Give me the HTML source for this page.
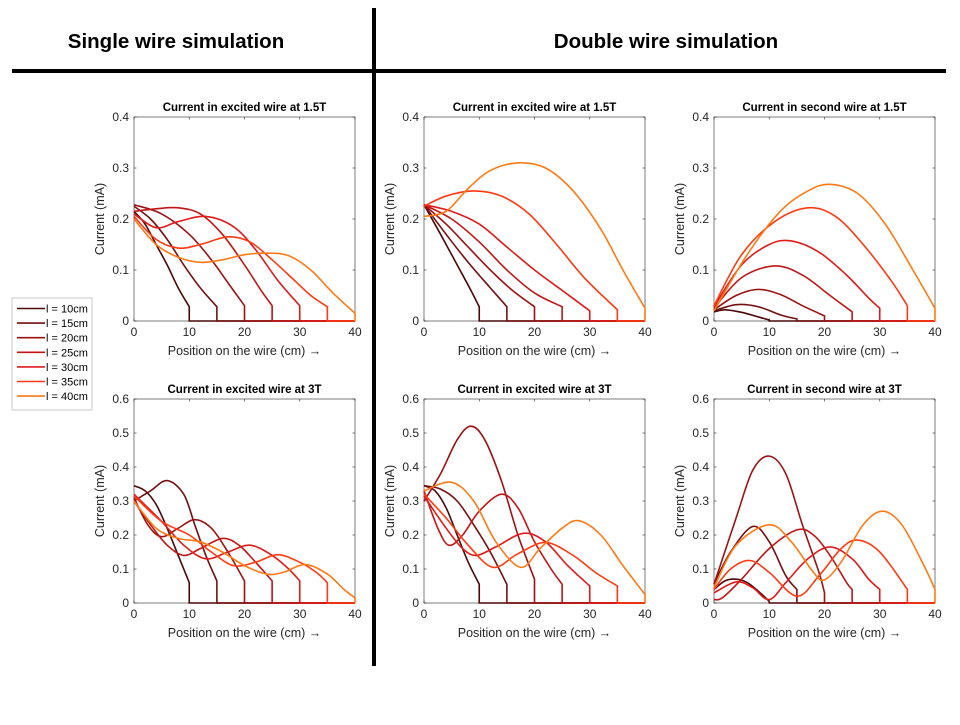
<!DOCTYPE html>
<html><head><meta charset="utf-8"><style>
body{margin:0;background:#fff;width:960px;height:720px;overflow:hidden;font-family:"Liberation Sans",sans-serif}
</style></head><body>
<svg id="s" width="960" height="720" xmlns="http://www.w3.org/2000/svg">
<text x="176" y="48" text-anchor="middle" font-size="20.5" font-weight="bold">Single wire simulation</text>
<text x="666" y="48" text-anchor="middle" font-size="20.5" font-weight="bold">Double wire simulation</text>
<rect x="12" y="69" width="934" height="4" fill="#000"/>
<rect x="372" y="8" width="4" height="658" fill="#000"/>
<g id="legend"></g>
</svg>
<script>
const lengths=[10,15,20,25,30,35,40];
const legendLabels=["l = 10cm","l = 15cm","l = 20cm","l = 25cm","l = 30cm","l = 35cm","l = 40cm"];
const colors=["#4a0808","#741010","#9c1212","#c01616","#e01a1a","#ff3a12","#ff7a14"];
const xTicks=[0,10,20,30,40];
const yTicksTop=[0,0.1,0.2,0.3,0.4];
const yTicksBot=[0,0.1,0.2,0.3,0.4,0.5,0.6];
const p1=[
[[0,.215],[2,.19],[4,.15],[6,.11],[8,.065],[10,.028]],
[[0,.225],[3,.2],[6,.16],[9,.11],[12,.065],[15,.028]],
[[0,.228],[5,.21],[10,.17],[14,.12],[17,.075],[20,.03]],
[[0,.215],[4,.22],[8,.222],[12,.21],[16,.17],[20,.11],[23,.06],[25,.03]],
[[0,.21],[4,.183],[8,.195],[13,.205],[18,.185],[22,.14],[26,.08],[30,.03]],
[[0,.205],[4,.16],[8,.143],[12,.15],[17,.165],[21,.155],[25,.12],[29,.08],[32,.05],[35,.028]],
[[0,.2],[4,.15],[8,.125],[12,.115],[16,.12],[20,.13],[24,.133],[28,.128],[32,.1],[36,.055],[40,.015]]];
const p2=[
[[0,.228],[3,.17],[6,.11],[8,.07],[10,.028]],
[[0,.228],[4,.17],[8,.115],[12,.065],[15,.028]],
[[0,.228],[4,.19],[8,.145],[12,.1],[16,.06],[20,.028]],
[[0,.228],[5,.2],[10,.155],[15,.1],[20,.055],[25,.028]],
[[0,.228],[5,.215],[10,.19],[15,.145],[20,.1],[25,.06],[30,.02]],
[[0,.225],[4,.245],[9,.255],[14,.245],[19,.21],[24,.15],[29,.085],[35,.022]],
[[0,.205],[4,.215],[8,.26],[12,.295],[17,.31],[22,.3],[27,.255],[32,.18],[36,.1],[40,.025]]];
const p3=[
[[0,.018],[2,.022],[5,.017],[8,.008],[10,.002]],
[[0,.02],[4,.032],[8,.028],[12,.012],[15,.004]],
[[0,.022],[4,.05],[8,.062],[12,.052],[16,.03],[20,.01]],
[[0,.025],[5,.085],[11,.108],[16,.09],[21,.05],[25,.018]],
[[0,.028],[5,.11],[10,.15],[14,.157],[19,.135],[24,.09],[28,.045],[30,.025]],
[[0,.03],[5,.13],[11,.195],[17,.222],[22,.205],[27,.15],[32,.08],[35,.03]],
[[0,.02],[6,.13],[12,.215],[17,.255],[21,.268],[26,.25],[31,.19],[36,.1],[40,.025]]];
const p4=[
[[0,.345],[2,.33],[4,.29],[6,.22],[8,.14],[9,.1],[10,.06]],
[[0,.3],[3,.33],[6,.36],[9,.32],[11,.23],[13,.14],[15,.065]],
[[0,.31],[2.5,.23],[5,.195],[8,.22],[11,.245],[14,.22],[17,.15],[20,.065]],
[[0,.3],[3,.23],[6,.17],[9,.14],[12,.16],[16,.19],[19,.17],[22,.12],[25,.065]],
[[0,.32],[5,.24],[9,.17],[13,.13],[17,.15],[21,.17],[25,.14],[28,.1],[30,.065]],
[[0,.315],[5,.24],[10,.2],[14,.15],[18,.11],[22,.12],[26,.142],[30,.12],[33,.09],[35,.06]],
[[0,.3],[4,.22],[8,.19],[12,.18],[16,.15],[20,.11],[24,.085],[27,.09],[31,.113],[35,.085],[38,.04],[40,.015]]];
const p5=[
[[0,.345],[2,.33],[4,.28],[6,.2],[8,.12],[10,.055]],
[[0,.345],[3,.335],[6,.3],[9,.23],[12,.15],[15,.055]],
[[0,.3],[3,.38],[6,.48],[8.5,.52],[11,.48],[14,.36],[17,.2],[20,.07]],
[[0,.33],[2.5,.22],[4.5,.17],[7,.2],[10,.27],[14,.32],[17,.28],[20,.18],[23,.1],[25,.055]],
[[0,.315],[4,.22],[7,.16],[9.5,.14],[13,.165],[18,.205],[22,.18],[26,.11],[30,.05]],
[[0,.32],[4,.25],[8,.17],[12.5,.105],[17,.145],[22,.178],[27,.14],[31,.09],[35,.05]],
[[0,.33],[5,.355],[9,.3],[13,.18],[17.5,.105],[21,.16],[25,.22],[28,.242],[32,.2],[36,.11],[40,.025]]];
const p6=[
[[0,.04],[2,.065],[4,.07],[6,.06],[8,.035],[10,.005]],
[[0,.055],[3,.15],[7,.225],[10,.18],[13,.08],[15,.04]],
[[0,.055],[4,.25],[7,.39],[10,.432],[13,.38],[16,.23],[19,.09],[20,.03]],
[[0,.01],[1.5,.015],[5,.07],[10,.16],[15,.215],[18,.2],[21,.14],[24,.06],[25,.04]],
[[0,.03],[4,.062],[7,.045],[10,.01],[13,.06],[17,.13],[21,.165],[25,.13],[28,.07],[30,.04]],
[[0,.04],[3,.1],[6.5,.125],[10,.09],[15,.02],[19,.08],[23,.16],[26,.185],[30,.15],[35,.04]],
[[0,.045],[4,.17],[10,.23],[14,.18],[18,.09],[20,.068],[23,.12],[27,.23],[30.5,.27],[34,.23],[38,.11],[40,.04]]];
const titles=["Current in excited wire at 1.5T","Current in excited wire at 1.5T","Current in second wire at 1.5T","Current in excited wire at 3T","Current in excited wire at 3T","Current in second wire at 3T"];
const NS="http://www.w3.org/2000/svg";
const svg=document.getElementById('s');
function mk(t,a,p){const e=document.createElementNS(NS,t);for(const k in a)e.setAttribute(k,a[k]);(p||svg).appendChild(e);return e;}
const panels=[
{x0:134,y0:117,data:p1,ym:0.4,yt:yTicksTop},
{x0:424,y0:117,data:p2,ym:0.4,yt:yTicksTop},
{x0:714,y0:117,data:p3,ym:0.4,yt:yTicksTop},
{x0:134,y0:399,data:p4,ym:0.6,yt:yTicksBot},
{x0:424,y0:399,data:p5,ym:0.6,yt:yTicksBot},
{x0:714,y0:399,data:p6,ym:0.6,yt:yTicksBot}];
const W=221,H=204;
panels.forEach((P,pi)=>{
  const g=mk('g',{});
  
  
  const sx=v=>P.x0+v/40*W, sy=v=>P.y0+H-v/P.ym*H;
  const bx=mk('rect',{x:P.x0,y:P.y0,width:W,height:H,fill:'#fff',stroke:'#262626','stroke-width':0.6},g);
  
  
  xTicks.forEach(t=>{
    mk('line',{x1:sx(t),x2:sx(t),y1:P.y0+H,y2:P.y0+H-2.5,stroke:'#262626','stroke-width':0.6},g);
    mk('line',{x1:sx(t),x2:sx(t),y1:P.y0,y2:P.y0+2.5,stroke:'#262626','stroke-width':0.6},g);
    const tx=mk('text',{x:sx(t),y:P.y0+H+15,'text-anchor':'middle','font-size':12,fill:'#262626'},g);tx.textContent=t;
    
    
  });
  P.yt.forEach(t=>{
    mk('line',{x1:P.x0,x2:P.x0+2.5,y1:sy(t),y2:sy(t),stroke:'#262626','stroke-width':0.6},g);
    mk('line',{x1:P.x0+W,x2:P.x0+W-2.5,y1:sy(t),y2:sy(t),stroke:'#262626','stroke-width':0.6},g);
    const ty=mk('text',{x:P.x0-5,y:sy(t)+4,'text-anchor':'end','font-size':12,fill:'#262626'},g);ty.textContent=t;
    
    
  });
  const tt=mk('text',{x:P.x0+W/2,y:P.y0-6,'text-anchor':'middle','font-size':11.5,'font-weight':'bold'},g);tt.textContent=titles[pi];
  
  
  const xl=mk('text',{x:P.x0+W/2,y:P.y0+H+34,'text-anchor':'middle','font-size':12.5,fill:'#262626'},g);xl.textContent='Position on the wire (cm) \u2192';
  
  
  const yl=mk('text',{x:0,y:0,'text-anchor':'middle','font-size':12.5,fill:'#262626',transform:`translate(${P.x0-30},${P.y0+H/2}) rotate(-90)`},g);yl.textContent='Current (mA)';
  
  
  P.data.forEach((pts,si)=>{
    const q=pts.map(p=>[sx(p[0]),sy(p[1])]);
    let d='M'+q[0][0]+','+q[0][1];
    for(let i=0;i<q.length-1;i++){
      const a=q[Math.max(0,i-1)],b=q[i],c=q[i+1],e=q[Math.min(q.length-1,i+2)];
      d+=` C${b[0]+(c[0]-a[0])/6},${b[1]+(c[1]-a[1])/6} ${c[0]-(e[0]-b[0])/6},${c[1]-(e[1]-b[1])/6} ${c[0]},${c[1]}`;
    }
    const L=lengths[si];
    d+=` L${sx(L)},${sy(0)} L${sx(40)},${sy(0)}`;
    const pa=mk('path',{d:d,fill:'none',stroke:colors[si],'stroke-width':1.6},g);
    
    
  });
});
const lg=document.getElementById('legend');
const lb=mk('rect',{x:12,y:298,width:80,height:112,fill:'#fff',stroke:'#c8c8c8','stroke-width':1},lg);


legendLabels.forEach((t,i)=>{
  const y=308.5+i*14.6;
  const e=mk('g',{},lg);
  
  
  mk('line',{x1:17,x2:45,y1:y,y2:y,stroke:colors[i],'stroke-width':1.6},e);
  const tx=mk('text',{x:46,y:y+4,'font-size':11,fill:'#000'},e);tx.textContent=t;
});
</script>
</body></html>
